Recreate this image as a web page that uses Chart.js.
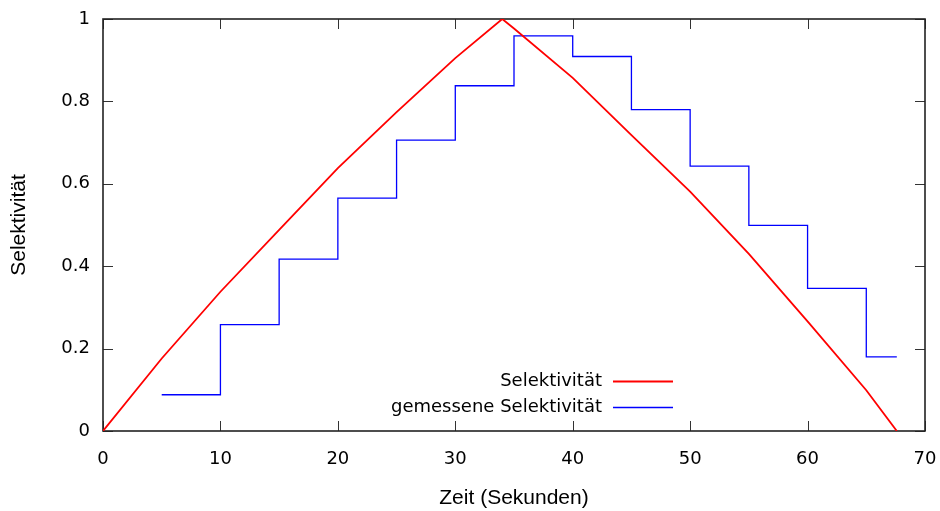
<!DOCTYPE html>
<html>
<head>
<meta charset="utf-8">
<title>Selektivität</title>
<script src="https://cdn.jsdelivr.net/npm/chart.js@4.4.1/dist/chart.umd.min.js"></script>
<style>
  html, body { margin: 0; padding: 0; background: #ffffff; }
  #wrap { width: 940px; height: 511px; }
</style>
</head>
<body>
<div id="wrap"><canvas id="chart" width="940" height="511"></canvas></div>
<script>
// Modelled selectivity over time (seconds)
const modelTime = [0, 5, 10, 15, 20, 25, 30, 34, 35, 40, 45, 50, 55, 60, 65, 67.6];
const modelSel  = [0, 0.176, 0.338, 0.488, 0.638, 0.774, 0.905, 1.0, 0.977, 0.857, 0.718, 0.581, 0.430, 0.266, 0.099, 0];

// Measured selectivity, one value per 5-second interval (held until the next sample)
const measTime = [5, 10, 15, 20, 25, 30, 35, 40, 45, 50, 55, 60, 65, 67.6];
const measSel  = [0.088, 0.258, 0.417, 0.565, 0.706, 0.838, 0.959, 0.909, 0.780, 0.643, 0.499, 0.346, 0.180, 0.180];

const seriesLabels = ['Selektivität', 'gemessene Selektivität'];
const xTicks = [0, 10, 20, 30, 40, 50, 60, 70];
const yTicks = [0, 0.2, 0.4, 0.6, 0.8, 1];

const tickFont = { family: 'DejaVu Sans', size: 18 };
const titleFont = { family: 'Liberation Sans', size: 21 };

const toPoints = (xs, ys) => xs.map((x, i) => ({ x: x, y: ys[i] }));

// Box border with inward ticks on all four sides
const framePlugin = {
  id: 'frame',
  beforeDatasetsDraw(chart) {
    const { ctx, chartArea: a, scales } = chart;
    const len = 10;
    ctx.save();
    ctx.strokeStyle = '#333333';
    ctx.lineWidth = 1;
    ctx.beginPath();
    xTicks.forEach(v => {
      const px = Math.round(scales.x.getPixelForValue(v)) + 0.5;
      ctx.moveTo(px, a.bottom); ctx.lineTo(px, a.bottom - len);
      ctx.moveTo(px, a.top); ctx.lineTo(px, a.top + len);
    });
    yTicks.forEach(v => {
      const py = Math.round(scales.y.getPixelForValue(v)) + 0.5;
      ctx.moveTo(a.left, py); ctx.lineTo(a.left + len, py);
      ctx.moveTo(a.right, py); ctx.lineTo(a.right - len, py);
    });
    ctx.stroke();
    ctx.strokeStyle = '#222222';
    ctx.lineWidth = 1.6;
    ctx.strokeRect(a.left, a.top, a.right - a.left, a.bottom - a.top);
    ctx.restore();
  }
};

// Key inside the plot: text right-aligned, line sample to its right
const keyPlugin = {
  id: 'key',
  afterDatasetsDraw(chart) {
    const { ctx } = chart;
    const textRight = 602, lineX0 = 613, lineX1 = 673;
    const rows = [381, 407];
    ctx.save();
    ctx.font = '18px "DejaVu Sans"';
    ctx.textAlign = 'right';
    ctx.textBaseline = 'middle';
    chart.data.datasets.forEach((ds, i) => {
      ctx.fillStyle = '#000000';
      ctx.fillText(ds.label, textRight, rows[i]);
      ctx.strokeStyle = ds.borderColor;
      ctx.lineWidth = ds.borderWidth;
      ctx.beginPath();
      ctx.moveTo(lineX0, rows[i] + 0.5);
      ctx.lineTo(lineX1, rows[i] + 0.5);
      ctx.stroke();
    });
    ctx.restore();
  }
};

const noEdgePadding = s => {
  s.paddingLeft = 0; s.paddingRight = 0;
  s.paddingTop = 0; s.paddingBottom = 0;
};

new Chart(document.getElementById('chart'), {
  type: 'line',
  data: {
    datasets: [
      {
        label: seriesLabels[0],
        data: toPoints(modelTime, modelSel),
        borderColor: '#ff0000',
        borderWidth: 1.8,
        pointRadius: 0,
        fill: false,
        tension: 0
      },
      {
        label: seriesLabels[1],
        data: toPoints(measTime, measSel),
        borderColor: '#0000ff',
        borderWidth: 1.3,
        pointRadius: 0,
        fill: false,
        stepped: 'before'
      }
    ]
  },
  options: {
    responsive: false,
    devicePixelRatio: 1,
    animation: false,
    layout: { padding: { top: 19, right: 15, left: 0, bottom: 0 } },
    plugins: {
      legend: { display: false },
      tooltip: { enabled: false }
    },
    scales: {
      x: {
        type: 'linear',
        min: 0,
        max: 70,
        afterFit: s => { s.height = 80; noEdgePadding(s); },
        afterBuildTicks: s => { s.ticks = xTicks.map(v => ({ value: v })); },
        grid: { display: false, drawTicks: false },
        border: { display: false },
        ticks: { font: tickFont, color: '#000000', padding: 18, maxRotation: 0, callback: v => String(v) },
        title: { display: true, text: 'Zeit (Sekunden)', font: titleFont, color: '#000000', padding: { top: 0, bottom: 0 } }
      },
      y: {
        type: 'linear',
        min: 0,
        max: 1,
        afterFit: s => { s.width = 103; noEdgePadding(s); },
        afterBuildTicks: s => { s.ticks = yTicks.map(v => ({ value: v })); },
        grid: { display: false, drawTicks: false },
        border: { display: false },
        ticks: { font: tickFont, color: '#000000', padding: 13, callback: v => String(+v.toFixed(1)) },
        title: { display: true, text: 'Selektivität', font: titleFont, color: '#000000', padding: { top: 7, bottom: 0 } }
      }
    }
  },
  plugins: [framePlugin, keyPlugin]
});
</script>
</body>
</html>
